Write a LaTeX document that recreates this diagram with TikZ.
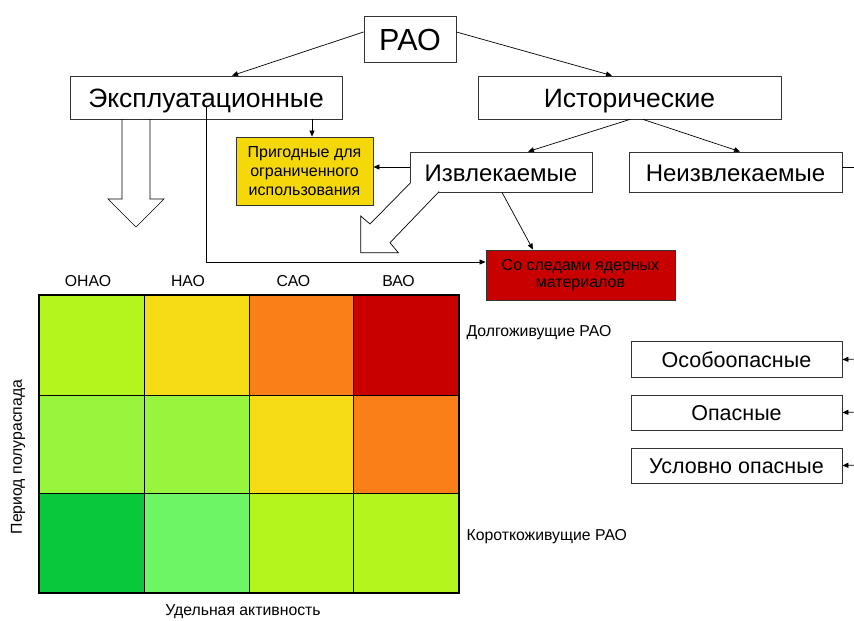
\documentclass[tikz,border=0pt]{standalone}
\usepackage{fontspec}
\setmainfont{Liberation Sans}
\usetikzlibrary{arrows.meta}
\definecolor{cLime}{HTML}{B4F51E}
\definecolor{cYel}{HTML}{F5DC14}
\definecolor{cOra}{HTML}{FA7F19}
\definecolor{cRed}{HTML}{C80000}
\definecolor{cGrn}{HTML}{96F53C}
\definecolor{cDkG}{HTML}{0AC83C}
\definecolor{cLtG}{HTML}{6EF564}
\definecolor{cBoxY}{HTML}{F5D80A}
\begin{document}
\begin{tikzpicture}[x=1pt,y=-1pt,
  box/.style={draw=black!80, line width=0.8pt, fill=white, inner sep=0pt, align=center},
  arr/.style={line width=0.7pt, -{Triangle[length=6pt,width=5pt]}},
  ln/.style={line width=0.7pt},
  big/.style={text height=20pt, text depth=0pt, font=\fontsize{26.5}{30}\selectfont},
  bigb/.style={text height=18pt, text depth=0pt, font=\fontsize{24}{28}\selectfont},
  mid/.style={text height=15pt, text depth=0pt, font=\fontsize{21.5}{24}\selectfont},
  sml/.style={font=\fontsize{15.8}{18}\selectfont},
  cell/.style={draw=black, line width=0.8pt}
]
\useasboundingbox (0,0) rectangle (854,621);

% top nodes
\node[box, text height=22pt, text depth=0pt, minimum width=92pt, minimum height=46pt, font=\fontsize{30.5}{34}\selectfont] (rao) at (410,39) {РАО};
\node[box, big, minimum width=272pt, minimum height=43pt] (ex) at (206,97.5) {Эксплуатационные};
\node[box, big, minimum width=303pt, minimum height=43pt] (hist) at (629.5,97.5) {Исторические};
\node[box, fill=cBoxY, minimum width=137pt, minimum height=68pt, font=\fontsize{16}{19}\selectfont] (prig) at (304.5,171) {Пригодные для\\ограниченного\\использования};
\node[box, bigb, minimum width=182pt, minimum height=40pt] (izv) at (501,172) {Извлекаемые};
\node[box, bigb, minimum width=213pt, minimum height=40pt] (neiz) at (735.5,172) {Неизвлекаемые};
\node[box, fill=cRed, minimum width=189pt, minimum height=50pt, font=\fontsize{16}{17}\selectfont] (red) at (580.5,275) {Со следами ядерных\\материалов};

% right boxes
\node[box, mid, minimum width=211pt, minimum height=36pt] (osob) at (736.5,359.5) {Особоопасные};
\node[box, mid, minimum width=211pt, minimum height=35pt] (opas) at (736.5,412.5) {Опасные};
\node[box, mid, minimum width=211pt, minimum height=35pt] (usl) at (736.5,465.5) {Условно опасные};
\coordinate (r1) at (858,359);
\coordinate (r2) at (858,412);
\coordinate (r3) at (858,465);
\coordinate (nr) at (858,167);

% connectors
\draw[arr] ([yshift=7pt]rao.west) -- ([xshift=26pt]ex.north);
\draw[arr] ([yshift=7pt]rao.east) -- ([xshift=-17.5pt]hist.north);
\draw[arr] ([xshift=106pt]ex.south) -- ([xshift=7.5pt]prig.north);
\draw[arr] ([xshift=0.5pt]hist.south) -- ([xshift=27pt]izv.north);
\draw[arr] ([xshift=13.5pt]hist.south) -- ([xshift=4.5pt]neiz.north);
\draw[arr] ([yshift=5pt]izv.west) -- ([yshift=4pt]prig.east);
\draw[arr] ([xshift=1pt]izv.south) -- ([xshift=-47.5pt]red.north);
\draw[arr] ([yshift=-9.5pt]ex.center) |- ([yshift=13pt]red.west);
\draw[ln] ([yshift=5pt]neiz.east) -- (nr);
\draw[arr] (r1) -- (osob.east);
\draw[arr] (r2) -- (opas.east);
\draw[arr] (r3) -- (usl.east);

% hollow arrows
\draw[ln] (122,119) -- (122,199) -- (108,199) -- (136,227) -- (164,199) -- (150,199) -- (150,119);
\draw[ln, fill=white] (410,183.3) -- (370,224) -- (360.7,216) -- (360.7,252.7) -- (398.3,252.7) -- (390,242.7) -- (439,191.7);

% grid
\fill[cLime] (39,295) rectangle (144,395);
\fill[cYel] (144,295) rectangle (249,395);
\fill[cOra] (249,295) rectangle (353,395);
\fill[cRed] (353,295) rectangle (459,395);
\fill[cGrn] (39,395) rectangle (144,493);
\fill[cGrn] (144,395) rectangle (249,493);
\fill[cYel] (249,395) rectangle (353,493);
\fill[cOra] (353,395) rectangle (459,493);
\fill[cDkG] (39,493) rectangle (144,593);
\fill[cLtG] (144,493) rectangle (249,593);
\fill[cLime] (249,493) rectangle (353,593);
\fill[cLime] (353,493) rectangle (459,593);
\draw[cell] (144,295) -- (144,593) (249,295) -- (249,593) (353,295) -- (353,593)
  (39,395) -- (459,395) (39,493) -- (459,493);
\draw[line width=2.6pt] (39,295) rectangle (459,593);

% labels
\node[sml] (c1) at (88,281) {ОНАО};
\node[sml] (c2) at (188,281) {НАО};
\node[sml] (c3) at (293.5,281) {САО};
\node[sml] (c4) at (398.5,281) {ВАО};
\node[sml, anchor=west] (lg) at (463,333) {Долгоживущие РАО};
\node[sml, anchor=west] (sh) at (463,537) {Короткоживущие РАО};
\node[sml] (xa) at (243,612) {Удельная активность};
\node[sml, rotate=90] (ya) at (18,457) {Период полураспада};
\end{tikzpicture}
\end{document}
